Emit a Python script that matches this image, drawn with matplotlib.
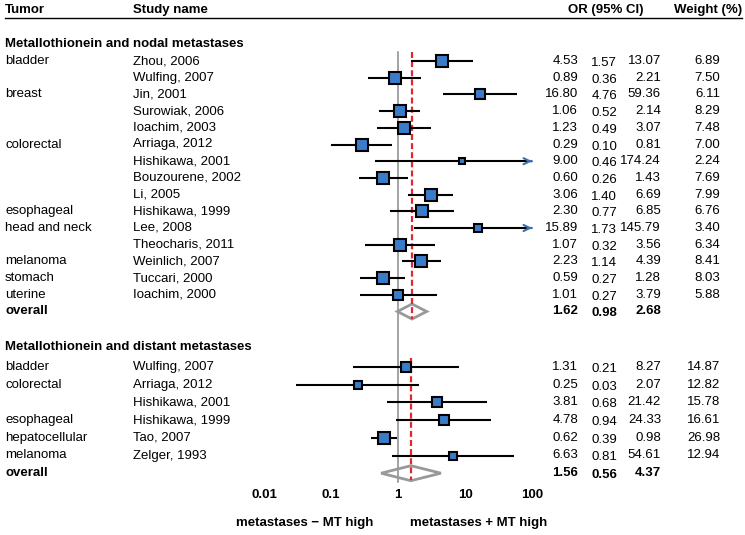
import matplotlib
matplotlib.use("Agg")
import matplotlib.pyplot as plt
import numpy as np

plt.rcParams['font.family'] = ['Liberation Sans', 'DejaVu Sans']

# ---------------- data ----------------
nodal_tumor = ["bladder", "", "breast", "", "", "colorectal", "", "", "", "esophageal",
               "head and neck", "", "melanoma", "stomach", "uterine"]
nodal_study = ["Zhou, 2006", "Wulfing, 2007", "Jin, 2001", "Surowiak, 2006", "Ioachim, 2003",
               "Arriaga, 2012", "Hishikawa, 2001", "Bouzourene, 2002", "Li, 2005", "Hishikawa, 1999",
               "Lee, 2008", "Theocharis, 2011", "Weinlich, 2007", "Tuccari, 2000", "Ioachim, 2000"]
nodal_or = [4.53, 0.89, 16.80, 1.06, 1.23, 0.29, 9.00, 0.60, 3.06, 2.30, 15.89, 1.07, 2.23, 0.59, 1.01]
nodal_lo = [1.57, 0.36, 4.76, 0.52, 0.49, 0.10, 0.46, 0.26, 1.40, 0.77, 1.73, 0.32, 1.14, 0.27, 0.27]
nodal_hi = [13.07, 2.21, 59.36, 2.14, 3.07, 0.81, 174.24, 1.43, 6.69, 6.85, 145.79, 3.56, 4.39, 1.28, 3.79]
nodal_w = [6.89, 7.50, 6.11, 8.29, 7.48, 7.00, 2.24, 7.69, 7.99, 6.76, 3.40, 6.34, 8.41, 8.03, 5.88]
nodal_overall = [1.62, 0.98, 2.68]

distant_tumor = ["bladder", "colorectal", "", "esophageal", "hepatocellular", "melanoma"]
distant_study = ["Wulfing, 2007", "Arriaga, 2012", "Hishikawa, 2001", "Hishikawa, 1999",
                 "Tao, 2007", "Zelger, 1993"]
distant_or = [1.31, 0.25, 3.81, 4.78, 0.62, 6.63]
distant_lo = [0.21, 0.03, 0.68, 0.94, 0.39, 0.81]
distant_hi = [8.27, 2.07, 21.42, 24.33, 0.98, 54.61]
distant_w = [14.87, 12.82, 15.78, 16.61, 26.98, 12.94]
distant_overall = [1.56, 0.56, 4.37]

xticks = [0.01, 0.1, 1, 10, 100]
xtick_labels = ["0.01", "0.1", "1", "10", "100"]

# ---------------- layout ----------------
W, H = 745, 535
fig = plt.figure(figsize=(W / 100, H / 100), dpi=100)
ax = fig.add_axes([0, 0, 1, 1])
ax.set_xscale('log')
x0px, dec = 398.0, 67.0
ax.set_xlim(10 ** (-x0px / dec), 10 ** ((W - x0px) / dec))
ax.set_ylim(H, 0)
ax.axis('off')

tr = ax.get_yaxis_transform()  # x in axes fraction, y in data
FS = 9.5
BLUE = '#3a7cc9'
GRAY = '#999999'
RED = '#e0282e'
XMAX = 100


def fx(px):
    return px / W


def draw_section(title, title_y, y0, dy, tumors, studies, ors, los, his, ws, overall):
    ax.text(fx(5), title_y, title, transform=tr, fontsize=FS, fontweight='bold',
            ha='left', va='center')
    n = len(studies)
    ys = [y0 + i * dy for i in range(n)]
    wmax = max(ws)
    for y, t, s, o, lo, hi, w in zip(ys, tumors, studies, ors, los, his, ws):
        ax.text(fx(5), y, t, transform=tr, fontsize=FS, ha='left', va='center')
        ax.text(fx(133), y, s, transform=tr, fontsize=FS, ha='left', va='center')
        ax.text(fx(578), y, f"{o:.2f}", transform=tr, fontsize=FS, ha='right', va='center')
        ax.text(fx(617), y + 2, f"{lo:.2f}", transform=tr, fontsize=FS, ha='right', va='center')
        ax.text(fx(661), y, f"{hi:.2f}", transform=tr, fontsize=FS, ha='right', va='center')
        ax.text(fx(720), y, f"{w:.2f}", transform=tr, fontsize=FS, ha='right', va='center')
        right = min(hi, XMAX)
        ax.plot([lo, right], [y, y], color='black', lw=1.5, zorder=3, solid_capstyle='butt')
        if hi > XMAX:
            ax.annotate("", xy=(XMAX, y), xytext=(XMAX * 0.97, y),
                        arrowprops=dict(arrowstyle='->', color='#3d6fb0', lw=1.5,
                                        mutation_scale=11, shrinkA=0, shrinkB=0),
                        zorder=4)
        side_px = 14.2 * np.sqrt(w / wmax)
        ax.plot([o], [y], marker='s', markersize=side_px * 0.72 - 0.9,
                markerfacecolor=BLUE, markeredgecolor='black', markeredgewidth=1.5,
                linestyle='none', zorder=5)
    yo = y0 + n * dy
    o, lo, hi = overall
    ax.text(fx(5), yo, "overall", transform=tr, fontsize=FS, fontweight='bold',
            ha='left', va='center')
    ax.text(fx(578), yo, f"{o:.2f}", transform=tr, fontsize=FS, fontweight='bold',
            ha='right', va='center')
    ax.text(fx(617), yo + 2, f"{lo:.2f}", transform=tr, fontsize=FS, fontweight='bold',
            ha='right', va='center')
    ax.text(fx(661), yo, f"{hi:.2f}", transform=tr, fontsize=FS, fontweight='bold',
            ha='right', va='center')
    ax.fill([lo, o, hi, o], [yo, yo - 7.5, yo, yo + 7.5], facecolor='none',
            edgecolor=GRAY, lw=2.0, zorder=2, joinstyle='miter')
    return ys, yo, o


# header
ax.text(fx(5), 10, "Tumor", transform=tr, fontsize=FS, fontweight='bold', ha='left', va='center')
ax.text(fx(133), 10, "Study name", transform=tr, fontsize=FS, fontweight='bold', ha='left', va='center')
ax.text(fx(606), 10, "OR (95% CI)", transform=tr, fontsize=FS, fontweight='bold', ha='center', va='center')
ax.text(fx(742), 10, "Weight (%)", transform=tr, fontsize=FS, fontweight='bold', ha='right', va='center')
ax.plot([fx(5), fx(742)], [17.5, 17.5], transform=tr, color='black', lw=1.0)

ys1, yo1, o1 = draw_section("Metallothionein and nodal metastases", 44, 61, 16.7,
                            nodal_tumor, nodal_study, nodal_or, nodal_lo, nodal_hi,
                            nodal_w, nodal_overall)
ys2, yo2, o2 = draw_section("Metallothionein and distant metastases", 347.5, 367, 17.7,
                            distant_tumor, distant_study, distant_or, distant_lo, distant_hi,
                            distant_w, distant_overall)

# reference lines
ax.plot([1, 1], [ys1[0] - 9, yo2 + 9], color='#8a8a8a', lw=1.1, zorder=1)
ax.plot([o1, o1], [ys1[0] - 9, yo1 + 7], color=RED, lw=1.6, ls=(0, (2.7, 1.4)), zorder=2.5)
ax.plot([o2, o2], [ys2[0] - 9, yo2 + 7], color=RED, lw=1.6, ls=(0, (2.7, 1.4)), zorder=2.5)

# axis tick labels
for v, lab in zip(xticks, xtick_labels):
    ax.text(v, 495, lab, fontsize=FS, fontweight='bold', ha='center', va='center')

ax.text(fx(373), 523, "metastases \u2212 MT high", transform=tr, fontsize=FS,
        fontweight='bold', ha='right', va='center')
ax.text(fx(410), 523, "metastases + MT high", transform=tr, fontsize=FS,
        fontweight='bold', ha='left', va='center')

fig.savefig("out.png", dpi=100)
